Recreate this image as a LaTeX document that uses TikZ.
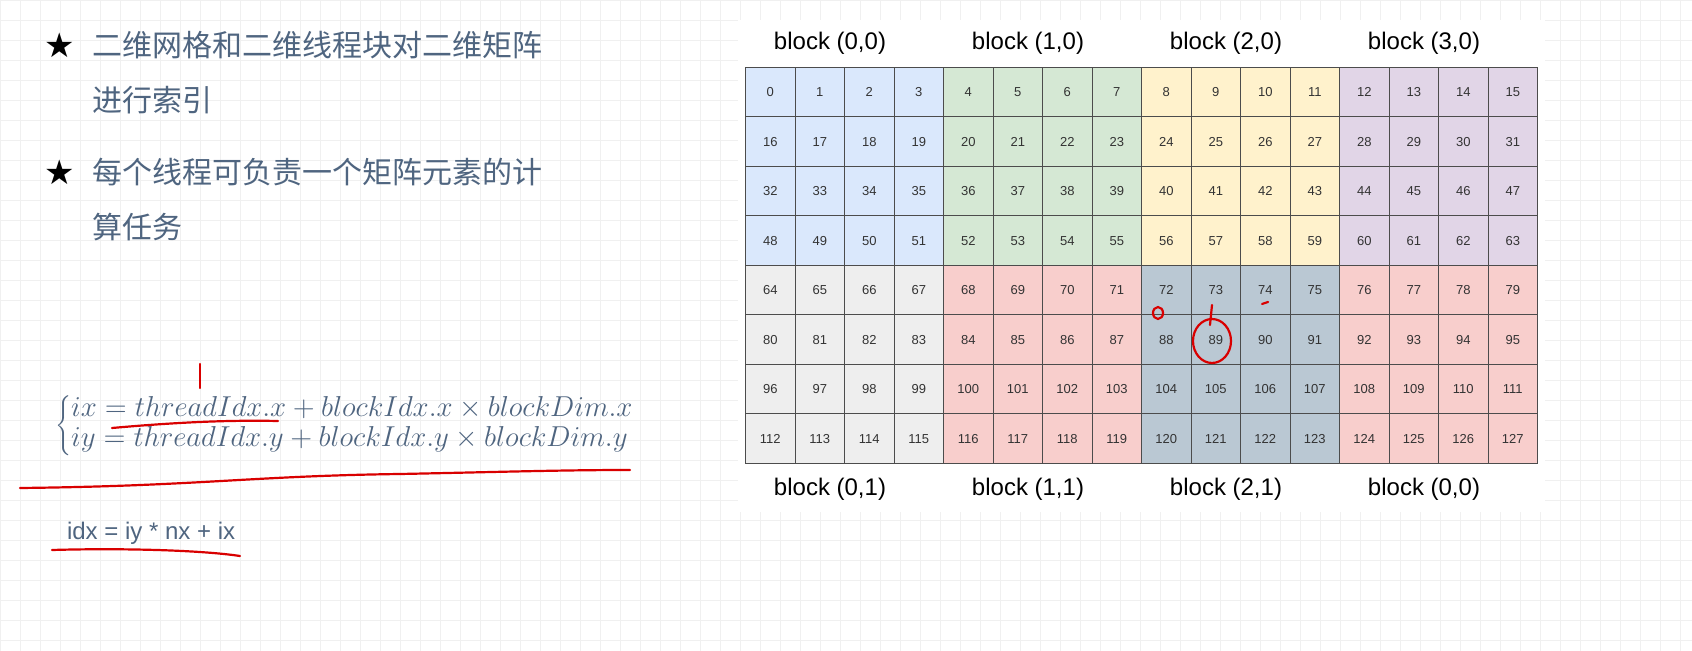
\documentclass[tikz,border=0pt]{standalone}
\usepackage{fontspec}
\setmainfont{Liberation Sans}
\newfontfamily\cjk{Noto Sans CJK SC}
\newfontfamily\djv{DejaVu Sans}
\begin{document}
\begin{tikzpicture}[x=0.5pt,y=-0.5pt,
  cell/.style={draw=black!70,line width=0.5pt,minimum width=24.75pt,minimum height=24.75pt,inner sep=0,font=\fontsize{6.5}{7}\selectfont,text=black!80,anchor=north west},
  blab/.style={font=\fontsize{12}{14}\selectfont,text=black},
  cn/.style={font=\cjk\fontsize{15}{17}\selectfont,text=slate,anchor=west},
  star/.style={font=\djv\fontsize{17}{17}\selectfont,anchor=center},
  redink/.style={draw=red!85!black,line width=1.1pt,line cap=round}]
\definecolor{slate}{HTML}{4F6580}
\useasboundingbox (0,0) rectangle (1692,651);
\fill[white] (0,0) rectangle (1692,651);
\foreach \x in {0,20,...,1690} \draw[black!6] (\x,0) -- (\x,651);
\foreach \y in {0,20,...,650} \draw[black!6] (0,\y) -- (1692,\y);
\fill[white] (738,20) rectangle (1545,512);
\definecolor{cA}{HTML}{DAE8FC}\definecolor{cB}{HTML}{D5E8D4}
\definecolor{cC}{HTML}{FFF2CC}\definecolor{cD}{HTML}{E1D5E7}
\definecolor{cE}{HTML}{EEEEEE}\definecolor{cF}{HTML}{F8CECC}
\definecolor{cG}{HTML}{BAC8D3}
\foreach \r in {0,...,7}{
 \foreach \c in {0,...,15}{
  \pgfmathtruncatemacro{\n}{\r*16+\c}
  \pgfmathtruncatemacro{\b}{int(\c/4)+4*int(\r/4)}
  \ifcase\b \def\col{cA}\or\def\col{cB}\or\def\col{cC}\or\def\col{cD}\or
     \def\col{cE}\or\def\col{cF}\or\def\col{cG}\or\def\col{cF}\fi
  \node[cell,fill=\col] (c\n) at ({745+49.5*\c},{67+49.5*\r}) {\n};
 }}
\foreach \t/\x in {{block (0,0)}/830,{block (1,0)}/1028,{block (2,0)}/1226,{block (3,0)}/1424}
  \node[blab] at (\x,43) {\t};
\foreach \t/\x in {{block (0,1)}/830,{block (1,1)}/1028,{block (2,1)}/1226,{block (0,0)}/1424}
  \node[blab] at (\x,489) {\t};
% left text
\node[star] (s1) at (60,45) {★};
\node[cn] (t1) at (85,45) {二维网格和二维线程块对二维矩阵};
\node[cn] (t2) at (85,100) {进行索引};
\node[star] (s2) at (60,172) {★};
\node[cn] (t3) at (85,172) {每个线程可负责一个矩阵元素的计};
\node[cn] (t4) at (85,227) {算任务};
\node[font=\fontsize{14.3}{15}\selectfont,text=slate,anchor=west] (f) at (48,426)
 {$\left\{\begin{array}{@{}l@{}}ix = threadIdx.x + blockIdx.x \times blockDim.x\\ iy = threadIdx.y + blockIdx.y \times blockDim.y\end{array}\right.$};
\node[font=\fontsize{12}{13}\selectfont,text=slate,anchor=west] (idx) at (60,533) {idx = iy * nx + ix};
% red annotations
\draw[redink] (200,364) -- (200,388);
\draw[redink] (112,428) .. controls (180,422) and (230,420) .. (278,421);
\draw[redink] (20,488) .. controls (200,486) and (250,476) .. (400,474) .. controls (500,472) and (560,470) .. (630,470);
\draw[redink] (52,550) .. controls (120,548) and (200,550) .. (240,556);
\draw[redink] (1212,341) ellipse (19 and 22);
\draw[redink] (1158,313) ellipse (5 and 6);
\draw[redink] (1212,305) -- (1210,325);
\draw[redink] (1262,304) -- (1268,302);
\end{tikzpicture}
\end{document}
